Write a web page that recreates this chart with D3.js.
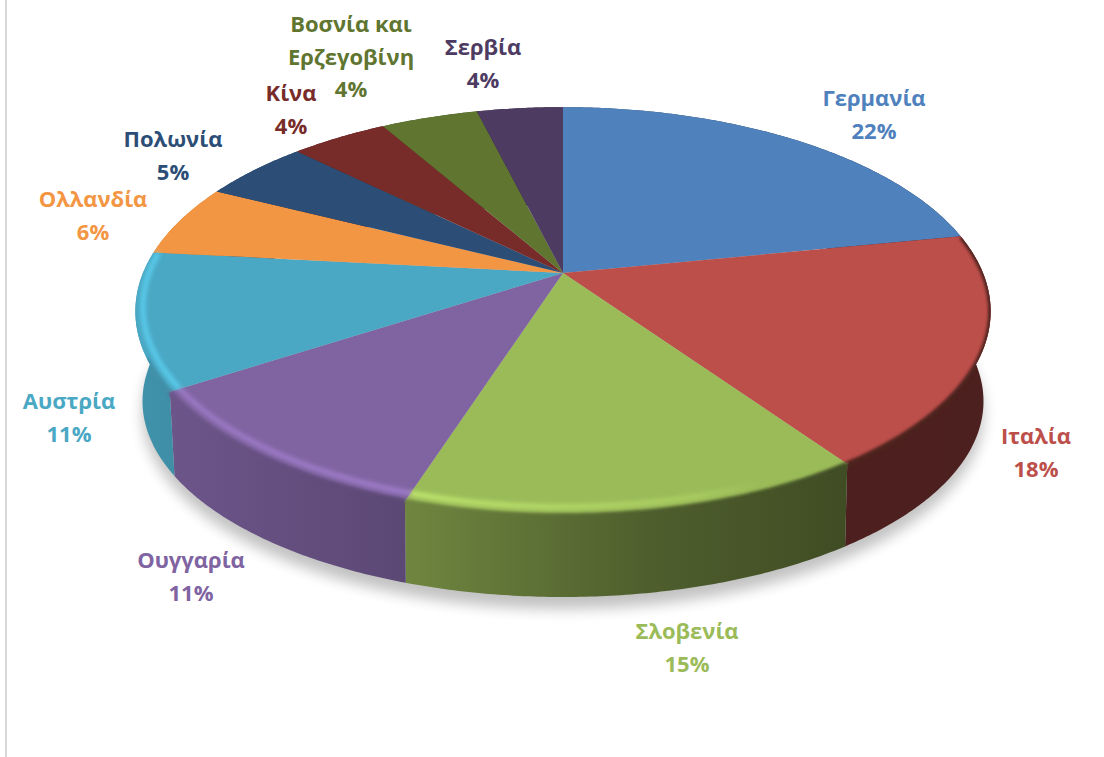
<!DOCTYPE html>
<html>
<head>
<meta charset="utf-8">
<script src="https://cdn.jsdelivr.net/npm/d3@7"></script>
<style>
  html, body { margin: 0; padding: 0; background: #fff; }
  svg { display: block; }
  text { font-family: "Open Sans", "Noto Sans", sans-serif; font-weight: 700; }
</style>
</head>
<body>
<div id="chart"></div>
<script>
// slices clockwise from 12 o'clock; labels show the rounded share
var countries = ["Γερμανία", "Ιταλία", "Σλοβενία", "Ουγγαρία", "Αυστρία", "Ολλανδία", "Πολωνία", "Κίνα", "Βοσνία και Ερζεγοβίνη", "Σερβία"];
var shares = [21.9, 18.4, 14.7, 10.9, 10.8, 5.7, 4.9, 4.4, 4.4, 3.9];
var colours = ["#4f81bd", "#bd4f4b", "#9bbb59", "#8064a2", "#4aa8c4", "#f39644", "#2c4d75", "#772c2a", "#5f7530", "#4d3b62"];
var labelLines = [["Γερμανία"], ["Ιταλία"], ["Σλοβενία"], ["Ουγγαρία"], ["Αυστρία"], ["Ολλανδία"], ["Πολωνία"], ["Κίνα"], ["Βοσνία και", "Ερζεγοβίνη"], ["Σερβία"]];

var width = 1104, height = 757;

// tilted disc: x/y of a point on the unit circle seen in perspective
var rimLayer = { cx: 563, cy: 273, a: 420, b: 197, k: 0.188 };
var glowLayer = { cx: 563, cy: 273, a: 414, b: 194, k: 0.17 };
var baseLayer = { cx: 563, cy: 362, a: 412, b: 188, k: 0.2 };

// top line anchor of each label, same order as countries
var labelAt = [[874, 106], [1036, 444], [687, 639], [191, 568], [69, 409], [93, 207], [173, 147], [291, 101], [351, 32], [483, 55]];
var lineHeight = 32.5;

var svg = d3.select("#chart").append("svg")
  .attr("width", width)
  .attr("height", height)
  .attr("viewBox", "0 0 " + width + " " + height);

var defs = svg.append("defs");

function blur(id, dev) {
  defs.append("filter")
    .attr("id", id)
    .attr("x", "-20%").attr("y", "-20%")
    .attr("width", "140%").attr("height", "140%")
    .append("feGaussianBlur").attr("stdDeviation", dev);
}
blur("soft-shadow", 7);
blur("soft-edge", 1.6);
blur("soft-glow", 2.2);

function project(theta, layer) {
  var x = Math.sin(theta), y = -Math.cos(theta), d = 1 - layer.k * y;
  return [layer.cx + layer.a * x / d, layer.cy + layer.b * y / d];
}

function arcPoints(a0, a1, layer) {
  var n = Math.max(2, Math.ceil((a1 - a0) / 0.01));
  return d3.range(n + 1).map(function(i) {
    return project(a0 + (a1 - a0) * i / n, layer);
  });
}

var pathLine = d3.line();
var slices = d3.pie().sort(null).value(function(d) { return d; })(shares);

// one quad per step, so the wall also fills the straight silhouette at the sides
function wallPath(d) {
  var top = arcPoints(d.startAngle, d.endAngle, rimLayer);
  var bottom = arcPoints(d.startAngle, d.endAngle, baseLayer);
  return d3.range(top.length - 1).map(function(i) {
    return pathLine([top[i], top[i + 1], bottom[i + 1], bottom[i]]) + "Z";
  }).join("");
}

// keeps the blurred edge inside the disc and its wall
var solid = defs.append("clipPath").attr("id", "solid-clip");
solid.append("path").attr("d", pathLine(arcPoints(0, 2 * Math.PI, rimLayer)) + "Z");
solid.append("path").attr("d", pathLine(arcPoints(0, 2 * Math.PI, baseLayer)) + "Z");

// wall brightness runs left to right, keyed on screen x
var wallShade = d3.scaleLinear()
  .domain([135, 400, 650, 845, 990])
  .range([0.87, 0.72, 0.5, 0.41, 0.4]);
var glowFade = d3.scaleLinear()
  .domain([135, 400, 700, 760, 990])
  .range([0.7, 0.8, 0.3, 0, 0]);

function shaded(colour, f) {
  var c = d3.rgb(colour);
  return d3.rgb(c.r * f, c.g * f, c.b * f).formatHex();
}

function userGradient(id) {
  return defs.append("linearGradient")
    .attr("id", id)
    .attr("gradientUnits", "userSpaceOnUse")
    .attr("x1", 135).attr("x2", 990)
    .attr("y1", 0).attr("y2", 0);
}

colours.forEach(function(colour, i) {
  var wall = userGradient("wall-" + i);
  wallShade.domain().forEach(function(x) {
    wall.append("stop")
      .attr("offset", (x - 135) / 855)
      .attr("stop-color", shaded(colour, wallShade(x)));
  });
  var glow = userGradient("glow-" + i);
  glowFade.domain().forEach(function(x) {
    glow.append("stop")
      .attr("offset", (x - 135) / 855)
      .attr("stop-color", d3.rgb(colour).brighter(0.75).formatHex())
      .attr("stop-opacity", glowFade(x));
  });
});

// shadow on the floor
svg.append("path")
  .attr("d", pathLine(arcPoints(0, 2 * Math.PI, baseLayer)) + "Z")
  .attr("transform", "translate(0,12)")
  .attr("fill", "#000")
  .attr("opacity", 0.24)
  .attr("filter", "url(#soft-shadow)");

// side walls
svg.append("g").selectAll("path")
  .data(slices)
  .join("path")
  .attr("d", wallPath)
  .attr("fill", function(d, i) { return "url(#wall-" + i + ")"; });

// top face
svg.append("g").selectAll("path")
  .data(slices)
  .join("path")
  .attr("d", function(d) {
    var pts = arcPoints(d.startAngle, d.endAngle, rimLayer);
    pts.unshift([rimLayer.cx, rimLayer.cy]);
    return pathLine(pts) + "Z";
  })
  .attr("fill", function(d, i) { return colours[i]; });

// bevel: soft dark edge where the face meets the wall, then the light band
function frontPart(d, layer, from, to) {
  var a0 = Math.max(d.startAngle, from), a1 = Math.min(d.endAngle, to);
  return a1 > a0 ? pathLine(arcPoints(a0, a1, layer)) : null;
}

svg.append("g")
  .attr("clip-path", "url(#solid-clip)")
  .selectAll("path")
  .data(slices)
  .join("path")
  .attr("d", function(d) { return frontPart(d, rimLayer, 1.38, 4.3); })
  .attr("fill", "none")
  .attr("stroke", function(d, i) { return "url(#wall-" + i + ")"; })
  .attr("stroke-width", 5)
  .attr("filter", "url(#soft-edge)");

svg.append("g").selectAll("path")
  .data(slices)
  .join("path")
  .attr("d", function(d) { return frontPart(d, glowLayer, 1.62, 4.82); })
  .attr("fill", "none")
  .attr("stroke", function(d, i) { return "url(#glow-" + i + ")"; })
  .attr("stroke-width", 5)
  .attr("filter", "url(#soft-glow)");

// labels
var label = svg.append("g").selectAll("text")
  .data(countries)
  .join("text")
  .attr("text-anchor", "middle")
  .attr("font-size", 22)
  .attr("fill", function(d, i) { return colours[i]; });

label.each(function(d, i) {
  var node = d3.select(this);
  var lines = labelLines[i].concat([Math.round(shares[i]) + "%"]);
  lines.forEach(function(line, j) {
    node.append("tspan")
      .attr("x", labelAt[i][0])
      .attr("y", labelAt[i][1] + j * lineHeight)
      .text(line);
  });
});

// frame edge left of the chart
svg.append("line")
  .attr("x1", 6).attr("x2", 6)
  .attr("y1", 0).attr("y2", height)
  .attr("stroke", "#d9d9d9")
  .attr("stroke-width", 2);
</script>
</body>
</html>
